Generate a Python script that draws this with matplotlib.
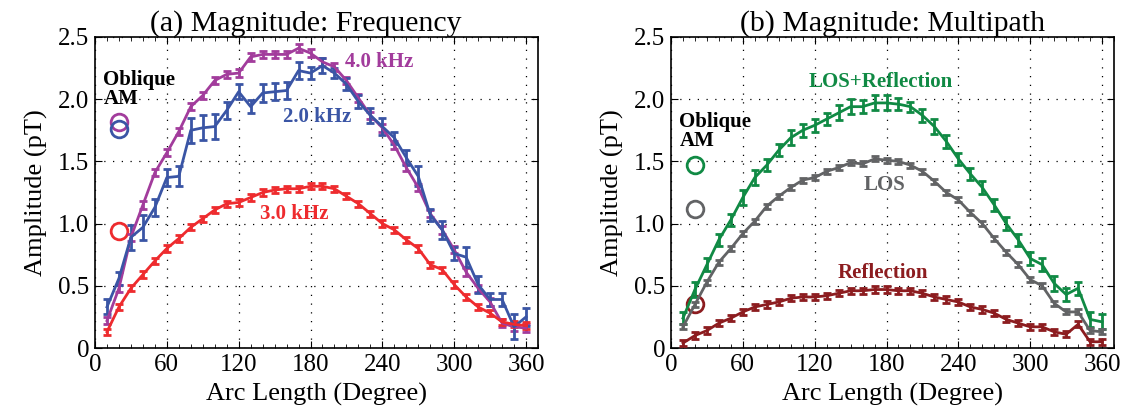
import matplotlib.pyplot as plt
from matplotlib.ticker import MultipleLocator

plt.rcParams['font.family'] = ['Liberation Serif', 'DejaVu Serif']

arc = list(range(10, 361, 10))

# (a) frequency
f4_mean = [0.22, 0.48, 0.89, 1.15, 1.41, 1.57, 1.74, 1.94, 2.03, 2.15, 2.20, 2.21,
           2.34, 2.36, 2.36, 2.36, 2.41, 2.37, 2.30, 2.26, 2.15, 2.01, 1.87, 1.77,
           1.63, 1.45, 1.29, 1.08, 0.95, 0.79, 0.61, 0.48, 0.37, 0.20, 0.17, 0.16]
f4_err = [0.03] * 36
f2_mean = [0.33, 0.56, 0.89, 0.97, 1.13, 1.37, 1.38, 1.75, 1.77, 1.78, 1.91, 2.06,
           1.94, 2.05, 2.06, 2.07, 2.23, 2.21, 2.27, 2.21, 2.12, 1.98, 1.87, 1.78,
           1.69, 1.53, 1.38, 1.07, 0.95, 0.76, 0.73, 0.51, 0.39, 0.39, 0.17, 0.25]
f2_err = [0.06, 0.05, 0.10, 0.10, 0.07, 0.07, 0.08, 0.10, 0.10, 0.10, 0.07, 0.06,
          0.05, 0.07, 0.07, 0.07, 0.07, 0.05, 0.06, 0.04, 0.05, 0.05, 0.06, 0.07,
          0.05, 0.06, 0.08, 0.05, 0.07, 0.05, 0.08, 0.07, 0.05, 0.05, 0.10, 0.07]
f3_mean = [0.13, 0.33, 0.48, 0.59, 0.70, 0.80, 0.88, 0.97, 1.04, 1.11, 1.16, 1.17,
           1.21, 1.25, 1.27, 1.28, 1.28, 1.30, 1.30, 1.28, 1.22, 1.16, 1.08, 1.00,
           0.95, 0.87, 0.80, 0.67, 0.63, 0.51, 0.41, 0.33, 0.28, 0.21, 0.19, 0.18]
f3_err = [0.025] * 36
am_freq = {'4.0': 1.82, '2.0': 1.76, '3.0': 0.94}

# (b) multipath
lr_mean = [0.24, 0.47, 0.67, 0.87, 1.03, 1.21, 1.37, 1.47, 1.59, 1.69, 1.75, 1.79,
           1.84, 1.89, 1.94, 1.94, 1.97, 1.97, 1.96, 1.94, 1.87, 1.78, 1.66, 1.52,
           1.40, 1.29, 1.15, 1.00, 0.87, 0.72, 0.67, 0.52, 0.43, 0.48, 0.23, 0.21]
lr_err = [0.05, 0.06, 0.05, 0.05, 0.05, 0.06, 0.06, 0.05, 0.05, 0.06, 0.05, 0.05,
          0.05, 0.06, 0.06, 0.05, 0.06, 0.06, 0.05, 0.04, 0.05, 0.06, 0.05, 0.05,
          0.05, 0.05, 0.05, 0.05, 0.05, 0.05, 0.05, 0.06, 0.05, 0.05, 0.06, 0.06]
los_mean = [0.17, 0.35, 0.53, 0.69, 0.80, 0.92, 1.02, 1.14, 1.22, 1.29, 1.35, 1.37,
            1.42, 1.45, 1.49, 1.48, 1.52, 1.51, 1.50, 1.47, 1.42, 1.34, 1.25, 1.19,
            1.09, 1.00, 0.88, 0.77, 0.67, 0.55, 0.50, 0.36, 0.29, 0.29, 0.14, 0.13]
los_err = [0.02] * 36
ref_mean = [0.04, 0.10, 0.14, 0.20, 0.24, 0.29, 0.33, 0.35, 0.37, 0.40, 0.41, 0.41,
            0.42, 0.44, 0.46, 0.46, 0.47, 0.47, 0.46, 0.46, 0.44, 0.41, 0.39, 0.37,
            0.33, 0.31, 0.28, 0.23, 0.20, 0.17, 0.17, 0.13, 0.11, 0.19, 0.05, 0.05]
ref_err = [0.025] * 36
am_multi = {'lr': 1.47, 'los': 1.12, 'ref': 0.35}

purple = '#a23c9c'
blue = '#3a55a5'
red = '#ee2b2e'
green = '#108a44'
gray = '#626365'
dred = '#8c1c1f'

fig = plt.figure(figsize=(11.33, 4.11), dpi=100)
ax1 = fig.add_axes([95 / 1133, 63 / 411, 443 / 1133, 311 / 411])
ax2 = fig.add_axes([671 / 1133, 63 / 411, 443 / 1133, 311 / 411])


def draw_series(ax, y, e, c, lw=2.0):
    ax.errorbar(arc, y, yerr=e, color=c, lw=lw, elinewidth=2.0, capsize=3,
                capthick=2.0, zorder=3)


def style(ax, title, tx=0.5):
    ax.set_xlim(0, 370)
    ax.set_ylim(0, 2.5)
    ax.set_xticks(range(0, 361, 60))
    ax.set_yticks([0, 0.5, 1.0, 1.5, 2.0, 2.5])
    ax.set_yticklabels(['0', '0.5', '1.0', '1.5', '2.0', '2.5'])
    ax.xaxis.set_minor_locator(MultipleLocator(10))
    ax.tick_params(direction='in', which='both', top=True, right=True,
                   labelsize=18, pad=4)
    ax.tick_params(which='major', length=5)
    ax.tick_params(which='minor', length=3)
    ax.grid(True, color='black', linestyle=(0, (1, 6)), linewidth=0.9)
    for s in ax.spines.values():
        s.set_linewidth(1.2)
    ax.set_xlabel('Arc Length (Degree)', fontsize=19, labelpad=5)
    ax.set_ylabel('Amplitude (pT)', fontsize=19, labelpad=7)
    ax.set_title(title, fontsize=21.5, pad=2, x=tx)


def am_text(ax, y):
    ax.text(7, y, 'Oblique\nAM', fontsize=15, fontweight='bold', ha='left',
            va='center', linespacing=0.95)


def series_label(ax, x, y, s, c, ha='left'):
    ax.text(x, y, s, color=c, fontsize=15, fontweight='bold', ha=ha,
            va='center')


draw_series(ax1, f4_mean, f4_err, purple)
draw_series(ax1, f2_mean, f2_err, blue)
draw_series(ax1, f3_mean, f3_err, red)
ax1.plot(20, am_freq['4.0'], 'o', ms=12, mfc='none', mec=purple, mew=2)
ax1.plot(20, am_freq['2.0'], 'o', ms=12, mfc='none', mec=blue, mew=2)
ax1.plot(20, am_freq['3.0'], 'o', ms=12, mfc='none', mec=red, mew=2)
am_text(ax1, 2.08)
series_label(ax1, 209, 2.30, '4.0 kHz', purple)
series_label(ax1, 157, 1.86, '2.0 kHz', blue)
series_label(ax1, 138, 1.08, '3.0 kHz', red)
style(ax1, '(a) Magnitude: Frequency', tx=0.475)

draw_series(ax2, lr_mean, lr_err, green)
draw_series(ax2, los_mean, los_err, gray)
draw_series(ax2, ref_mean, ref_err, dred)
ax2.plot(20, am_multi['lr'], 'o', ms=12, mfc='none', mec=green, mew=2)
ax2.plot(20, am_multi['los'], 'o', ms=12, mfc='none', mec=gray, mew=2)
ax2.plot(20, am_multi['ref'], 'o', ms=12, mfc='none', mec=dred, mew=2)
am_text(ax2, 1.74)
series_label(ax2, 175, 2.14, 'LOS+Reflection', green, ha='center')
series_label(ax2, 178, 1.31, 'LOS', gray, ha='center')
series_label(ax2, 177, 0.60, 'Reflection', dred, ha='center')
style(ax2, '(b) Magnitude: Multipath')

fig.savefig('out.png', dpi=100)
